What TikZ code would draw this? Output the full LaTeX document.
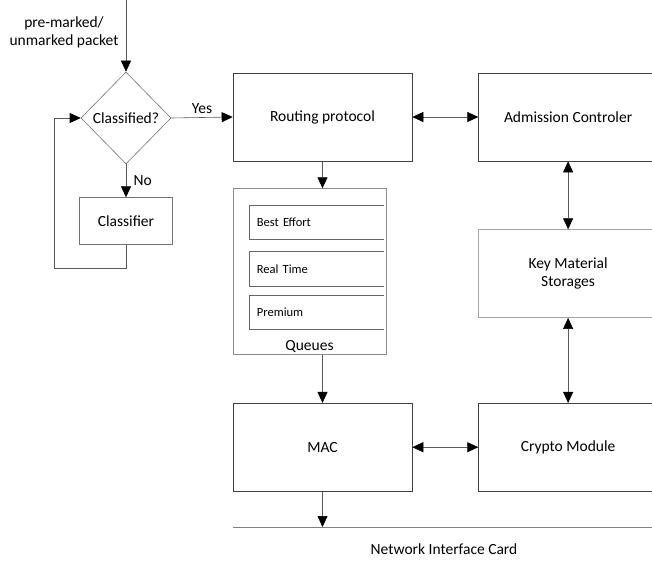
\documentclass[tikz,border=0pt]{standalone}
\usepackage{fontspec}
\setmainfont{Carlito}
\usepackage{tikz}
\usetikzlibrary{arrows.meta, positioning, shapes.geometric}

\begin{document}
\begin{tikzpicture}[x=1pt, y=-1pt, node distance=30pt,
    >={Triangle[length=11pt,width=10pt,color=black]},
    block/.style={rectangle, draw=black!75, line width=0.6pt, minimum width=179pt, minimum height=88pt, font=\fontsize{15.5}{18}\selectfont, align=center},
    smallblock/.style={rectangle, draw=black!55, line width=0.6pt, minimum width=93pt, minimum height=47pt, font=\fontsize{15.5}{18}\selectfont},
    queuebox/.style={rectangle, text width=120pt, minimum height=34pt, inner xsep=7pt, inner ysep=0pt, align=left, font=\fontsize{12.5}{15}\selectfont},
    link/.style={draw=black!65, line width=0.6pt},
    lbl/.style={font=\fontsize{15.5}{18}\selectfont}]
\clip (0,0) rectangle (652,567);

% Decision and classifier
\node[diamond, draw=black!55, line width=0.6pt, minimum width=90pt, minimum height=92pt, inner sep=0pt, font=\fontsize{15.5}{18}\selectfont] (decision) at (126,118) {Classified?};
\node[smallblock, below=33pt of decision] (classifier) {Classifier};
\node[lbl, align=center] (input) at (64,32) {pre-marked/\\unmarked packet};
\coordinate (top) at (126,0);
\coordinate (back) at (54,268);

% Main blocks
\node[block] (routing) at (322.5,117) {Routing protocol};
\node[block, right=66pt of routing] (admission) {Admission Controler};
\node[block, draw=black!35, below=68pt of admission] (keymat) {Key Material\\Storages};
\node[block, below=85pt of keymat] (crypto) {Crypto Module};

% Queues
\node[rectangle, draw=black!45, line width=0.6pt, minimum width=153pt, minimum height=166pt, below=27pt of routing, xshift=-13pt] (queues) {};
\node[lbl, anchor=south, inner sep=2pt] (queuelabel) at (queues.south) {Queues};
\node[queuebox, anchor=north west] (q1) at ([xshift=17pt,yshift=-17pt]queues.north west) {Best Effort};
\node[queuebox, below=12pt of q1] (q2) {Real Time};
\node[queuebox, below=9pt of q2] (q3) {Premium};
\foreach \q in {q1,q2,q3}
    \draw[draw=black!60, line width=0.6pt] (\q.north east) -- (\q.north west) -- (\q.south west) -- (\q.south east);

\node[block, below=48pt of queues.south, anchor=north] (mac) at (queues.south -| routing) {};
\node[lbl] at (mac) {MAC};

% Network interface card
\coordinate (nicleft) at (233,527);
\coordinate (nicright) at (652,527);
\coordinate (macout) at (mac.south |- nicleft);
\node[lbl] (nic) at (444,549) {Network Interface Card};

% Arrows
\draw[link, ->] (top) -- (decision.north);
\draw[link, ->] (decision.east) -- node[lbl, above, text=black] {Yes} (routing.west);
\draw[link, ->] (decision.south) -- node[lbl, right, text=black, xshift=4pt] {No} (classifier.north);
\draw[link, ->] (classifier.south) |- (back) |- (decision.west);
\draw[link, <->] (routing.east) -- (admission.west);
\draw[link, <->] (admission.south) -- (keymat.north);
\draw[link, <->] (keymat.south) -- (crypto.north);
\draw[link, ->] (routing.south) -- (routing.south |- queues.north);
\draw[link, ->] (routing.south |- queues.south) -- (mac.north);
\draw[link, <->] (mac.east) -- (crypto.west);
\draw[link, ->] (mac.south) -- (macout);
\draw[draw=black!50, line width=0.6pt] (nicleft) -- (nicright);

\end{tikzpicture}
\end{document}
